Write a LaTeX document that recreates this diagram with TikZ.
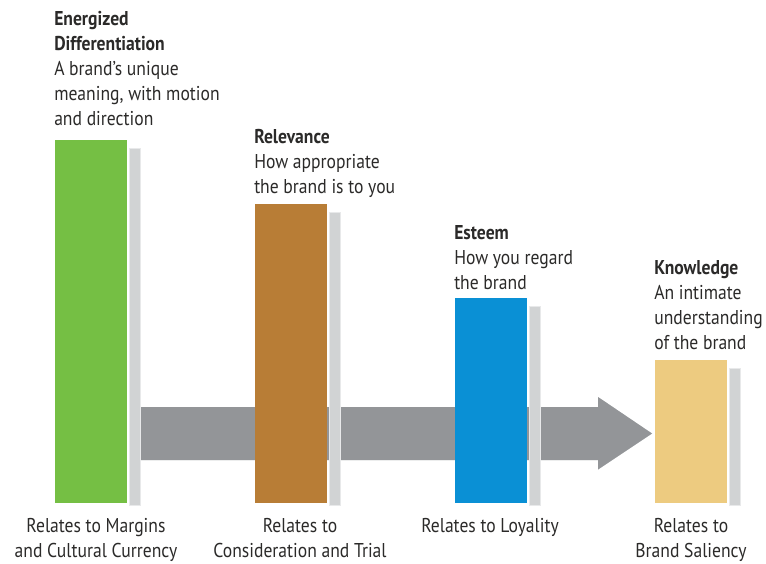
\documentclass[tikz,border=0pt]{standalone}
\usepackage{fontspec}
\setmainfont{PT Sans}[FakeStretch=0.88]
\usetikzlibrary{positioning}
\usetikzlibrary{calc}
\definecolor{diffgreen}{HTML}{75BF44}
\definecolor{relbrown}{HTML}{B87D36}
\definecolor{esteemblue}{HTML}{0A90D5}
\definecolor{knowyellow}{HTML}{EDCB80}
\definecolor{arrowgray}{HTML}{939598}
\definecolor{shadowgray}{HTML}{D1D3D4}
\definecolor{shadowedge}{HTML}{E8E9EA}
\definecolor{textgray}{HTML}{2B2A29}
\newcommand{\hd}[1]{\textbf{#1}}

\begin{document}
\begin{tikzpicture}[x=0.75pt,y=-0.75pt,
  bar/.style={anchor=south west,inner sep=0,minimum width=54pt},
  barshadow/.style={fill=shadowgray,draw=shadowedge,line width=0.75pt},
  caption/.style={anchor=north west,inner sep=0,align=left,text=textgray,
    font=\fontsize{15}{18.75}\selectfont},
  relates/.style={anchor=north,inner sep=0,align=center,text=textgray,
    font=\fontsize{15}{18.75}\selectfont}]
  \useasboundingbox (0,0) rectangle (766,563);
  % bars
  \node[bar,fill=diffgreen,minimum height=272.25pt] (diff) at (55,503) {};
  \node[bar,fill=relbrown,minimum height=224.25pt] (rel) at (255,503) {};
  \node[bar,fill=esteemblue,minimum height=153.75pt] (est) at (455,503) {};
  \node[bar,fill=knowyellow,minimum height=107.25pt] (know) at (655,503) {};
  % arrow behind the bars, shadow first
  \coordinate (tail) at (140,433.5);
  \foreach \dx/\dy/\col in {2/8/shadowgray,0/0/arrowgray}{
    \begin{scope}[shift={(\dx,\dy)}]
      \fill[\col] ($(tail)+(0,-26.5)$) -- ++(458,0) -- ++(0,-10) -- ($(know.west |- tail)+(-3,0)$)
        -- ($(tail)+(458,36)$) -- ++(0,-9.5) -- ($(tail)+(0,26.5)$) -- cycle;
    \end{scope}
  }
  % bar shadows, bars again on top
  \foreach \b in {diff,rel,est,know}{
    \draw[barshadow] ($(\b.north east)+(1.5,9)$) rectangle ($(\b.south east)+(12.5,2)$);
  }
  \node[bar,fill=diffgreen,minimum height=272.25pt] at (55,503) {};
  \node[bar,fill=relbrown,minimum height=224.25pt] at (255,503) {};
  \node[bar,fill=esteemblue,minimum height=153.75pt] at (455,503) {};
  \node[bar,fill=knowyellow,minimum height=107.25pt] at (655,503) {};
  % captions above the bars
  \node[caption] (diff-cap) at (54,11) {\hd{Energized}\\\hd{Differentiation}\\A brand’s unique\\meaning, with motion\\and direction};
  \node[caption] (rel-cap) at (254,129) {\hd{Relevance}\\How appropriate\\the brand is to you};
  \node[caption] (est-cap) at (454,225) {\hd{Esteem}\\How you regard\\the brand};
  \node[caption] (know-cap) at (654,260) {\hd{Knowledge}\\An intimate\\understanding\\of the brand};
  % what each one relates to
  \node[relates] (diff-rel) at (96,518) {Relates to Margins\\and Cultural Currency};
  \node[relates] (rel-rel) at (300,518) {Relates to\\Consideration and Trial};
  \node[relates] (est-rel) at (490,518) {Relates to Loyality};
  \node[relates] (know-rel) at (691,518) {Relates to\\Brand Saliency};
\end{tikzpicture}
\end{document}
